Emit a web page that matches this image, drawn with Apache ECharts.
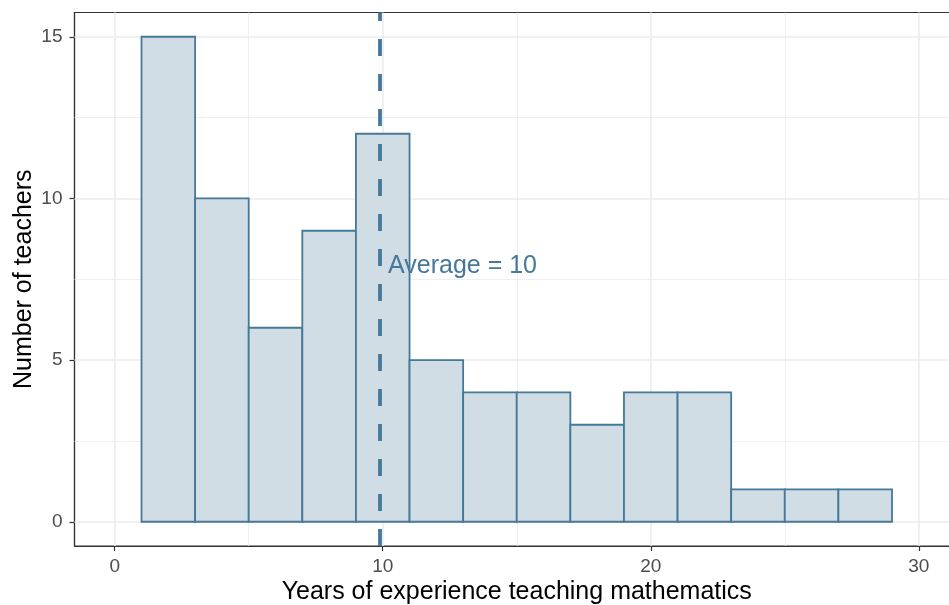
<!DOCTYPE html>
<html><head><meta charset="utf-8">
<script src="https://cdn.jsdelivr.net/npm/echarts@6/dist/echarts.min.js"></script>
<style>html,body{margin:0;padding:0;background:#fff;overflow:hidden}#c{width:960px;height:605px}</style>
</head><body><div id="c"></div>
<script>
// Histogram bins (years) and counts
const binStart = [1,3,5,7,9,11,13,15,17,19,21,23,25,27];
const binEnd   = [3,5,7,9,11,13,15,17,19,21,23,25,27,29];
const counts   = [15,10,6,9,12,5,4,4,3,4,4,1,1,1];
const meanYears = 9.9;
const meanLabel = 'Average = 10';
const labelY = 7.9;
const xTicks = [0,10,20,30];
const xMinor = [5,15,25];
const yTicks = [0,5,10,15];
const yMinor = [2.5,7.5,12.5];

const lineColor = '#457899';
const fillColor = '#d0dde4';
const font = 'Liberation Sans, Arial, sans-serif';

const chart = echarts.init(document.getElementById('c'), null, {renderer:'canvas'});
const histData = binStart.map((s,i)=>[s, binEnd[i], counts[i]]);

const gridLines = [];
xTicks.forEach(v=>gridLines.push({xAxis:v, lineStyle:{width:1.6,color:'#ebebeb',type:'solid'}}));
xMinor.forEach(v=>gridLines.push({xAxis:v, lineStyle:{width:0.8,color:'#ebebeb',type:'solid'}}));
yTicks.forEach(v=>gridLines.push({yAxis:v, lineStyle:{width:1.6,color:'#ebebeb',type:'solid'}}));
yMinor.forEach(v=>gridLines.push({yAxis:v, lineStyle:{width:0.8,color:'#ebebeb',type:'solid'}}));

chart.setOption({
  animation:false,
  backgroundColor:'#fff',
  grid:{left:74.5, right:1, top:12.5, bottom:59, outerBoundsMode:'none', containLabel:false,
        show:true, borderColor:'#333', borderWidth:1.2, backgroundColor:'transparent'},
  xAxis:{
    type:'value', min:-1.5, max:31.5,
    name:'Years of experience teaching mathematics', nameLocation:'middle', nameGap:34, nameMoveOverlap:false,
    nameTextStyle:{color:'#000', fontSize:25, fontFamily:font},
    axisLine:{show:true, onZero:false, lineStyle:{color:'#333', width:1.2}},
    axisTick:{show:true, length:5, customValues:xTicks, lineStyle:{color:'#333', width:1.2}},
    axisLabel:{customValues:xTicks, color:'#4d4d4d', fontSize:19, fontFamily:font, margin:11},
    splitLine:{show:false}
  },
  yAxis:{
    type:'value', min:-0.75, max:15.75,
    name:'Number of teachers', nameLocation:'middle', nameGap:38, nameMoveOverlap:false,
    nameTextStyle:{color:'#000', fontSize:25, fontFamily:font},
    axisLine:{show:true, onZero:false, lineStyle:{color:'#333', width:1.2}},
    axisTick:{show:true, length:5, customValues:yTicks, lineStyle:{color:'#333', width:1.2}},
    axisLabel:{customValues:yTicks, color:'#4d4d4d', fontSize:19, fontFamily:font, margin:12},
    splitLine:{show:false}
  },
  series:[
    {
      type:'line', data:[], silent:true, z:1,
      markLine:{z:1, silent:true, symbol:'none', label:{show:false}, data:gridLines, animation:false}
    },
    {
      type:'custom', data:histData, z:3,
      renderItem:function(params, api){
        const p0 = api.coord([api.value(0), api.value(2)]);
        const p1 = api.coord([api.value(1), 0]);
        return {type:'rect', shape:{x:p0[0], y:p0[1], width:p1[0]-p0[0], height:p1[1]-p0[1]},
          style:{fill:fillColor, stroke:lineColor, lineWidth:1.8}};
      },
      encode:{x:[0,1], y:2}
    },
    {
      type:'line', data:[], silent:true, z:5,
      markLine:{z:5, silent:true, symbol:'none', label:{show:false},
        lineStyle:{color:lineColor, width:3.8, type:[17,18]},
        data:[{xAxis:meanYears}], animation:false}
    },
    {
      type:'scatter', data:[[meanYears, labelY]], symbolSize:0, z:6, silent:true,
      itemStyle:{opacity:1},
      label:{show:true, position:'right', distance:8, formatter:meanLabel, color:lineColor, fontSize:25, fontFamily:font}
    }
  ]
});
</script></body></html>
